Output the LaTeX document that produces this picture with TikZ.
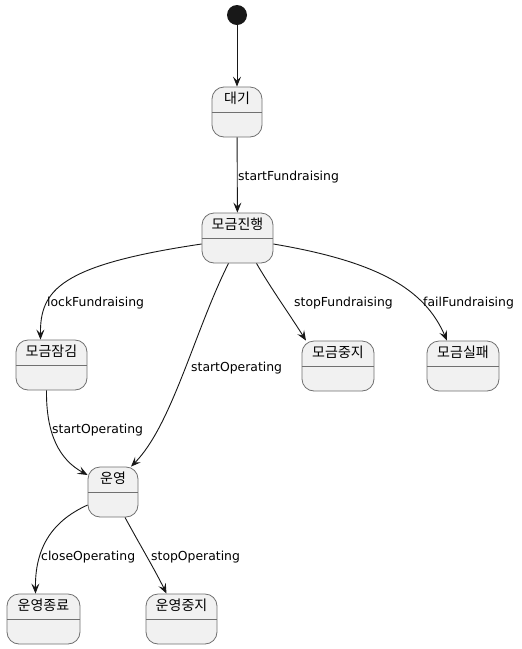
\documentclass[tikz,border=0pt]{standalone}
\usepackage{fontspec}
\setmainfont{DejaVu Sans}
\newfontfamily\kr{Noto Sans CJK KR}
\usetikzlibrary{arrows.meta}

\definecolor{boxfill}{HTML}{F1F1F1}
\definecolor{boxline}{HTML}{707070}
\definecolor{ink}{HTML}{181818}

\tikzset{
	statebox/.style={rectangle, rounded corners=12pt, draw=boxline, line width=0.8pt,
		fill=boxfill, minimum height=50pt, inner sep=0pt},
	statename/.style={font=\kr\fontsize{14}{14}\selectfont, anchor=north, inner sep=0pt},
	trans/.style={draw=ink, line width=0.9pt, -{Stealth[length=10pt,width=8pt,inset=4pt]}},
	lbl/.style={font=\fontsize{12.4}{12.4}\selectfont, anchor=west, inner sep=0pt, text=black}
}

\begin{document}
\begin{tikzpicture}[x=1pt,y=-1pt]
		\useasboundingbox [fill=white] (0,0) rectangle (522,649);

		% start point
		\node [circle, fill=ink, minimum size=20pt, inner sep=0pt] (init) at (237,15) {};

		% states: name / centre x / top y / width / text
		\foreach \n/\x/\y/\w/\t in {dae/237/87/50/대기, jin/237.5/213/71/모금진행,
				jam/51.5/340/71/모금잠김, jung/338/341/72/모금중지, sil/463/341/72/모금실패,
				un/113/467/50/운영, jong/43.5/594/73/운영종료, unjung/181.5/594/71/운영중지}{
				\node [statebox, minimum width=\w pt] (\n) at (\x,\y+25) {};
				\draw [boxline, line width=0.8pt] ([yshift=-26pt]\n.north west) -- ([yshift=-26pt]\n.north east);
				\node [statename] at ([yshift=-5.5pt]\n.north) {\t};
			}

		% transitions
		\draw [trans] (init) -- (dae);
		\draw [trans] (dae) -- (jin);
		\draw [trans] ([yshift=-6pt]jin.west) .. controls (60,265) and (40,290) .. ([xshift=-11pt]jam.north);
		\draw [trans] ([xshift=-9pt]jin.south) .. controls (195,330) and (172,425) .. ([xshift=18pt]un.north);
		\draw [trans] ([xshift=19pt]jin.south) .. controls (272,290) and (290,315) .. ([xshift=-32pt]jung.north);
		\draw [trans] ([yshift=-6pt]jin.east) .. controls (380,262) and (425,290) .. ([xshift=-16pt]sil.north);
		\draw [trans] ([xshift=-5pt]jam.south) .. controls (46,435) and (60,460) .. ([yshift=17pt]un.west);
		\draw [trans] ([yshift=-13pt]un.west) .. controls (50,522) and (35,550) .. ([xshift=-8pt]jong.north);
		\draw [trans] ([xshift=12pt]un.south) .. controls (140,545) and (155,570) .. ([xshift=-15pt]unjung.north);

		% labels
		\node [lbl] (l1) at (238,177) {startFundraising};
		\node [lbl] (l2) at (47,303) {lockFundraising};
		\node [lbl] (l3) at (191,368) {startOperating};
		\node [lbl] (l4) at (294,303) {stopFundraising};
		\node [lbl] (l5) at (423,303) {failFundraising};
		\node [lbl] (l6) at (52,430) {startOperating};
		\node [lbl] (l7) at (41,557) {closeOperating};
		\node [lbl] (l8) at (151,557) {stopOperating};

		\end{tikzpicture}
\end{document}
